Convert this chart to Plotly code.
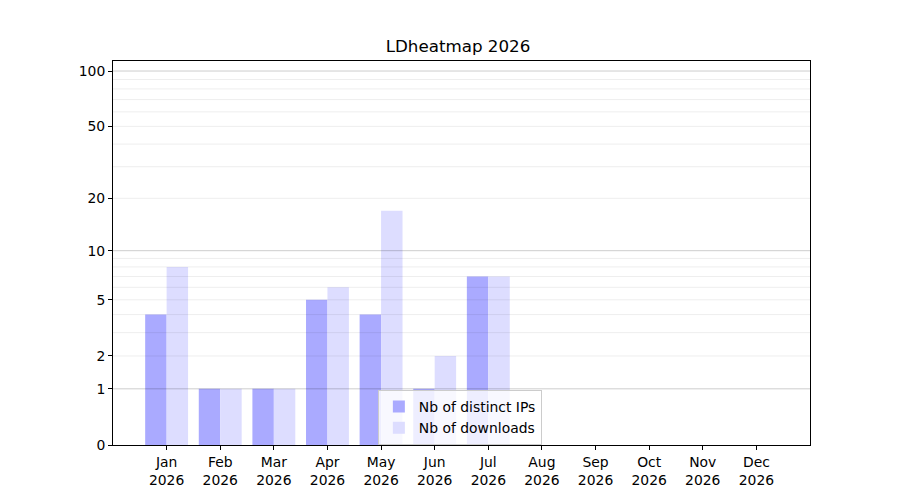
import numpy as np
import plotly.graph_objects as go

months = ["Jan", "Feb", "Mar", "Apr", "May", "Jun", "Jul", "Aug", "Sep", "Oct", "Nov", "Dec"]
year = "2026"
nb_ips = [4, 1, 1, 5, 4, 1, 7, 0, 0, 0, 0, 0]
nb_downloads = [8, 1, 1, 6, 17, 2, 7, 0, 0, 0, 0, 0]
tick_values = [0, 1, 2, 5, 10, 20, 50, 100]
major_grid = [1, 10, 100]
minor_grid = [2, 3, 4, 5, 6, 7, 8, 9, 20, 30, 40, 50, 60, 70, 80, 90]

def tr(v):
    return np.log10(1 + np.asarray(v, dtype=float))

x = list(range(len(months)))
fig = go.Figure()
fig.add_trace(go.Bar(x=x, y=tr(nb_ips), name="Nb of distinct IPs",
                     marker=dict(color="#aaaaff", line=dict(width=0))))
fig.add_trace(go.Bar(x=x, y=tr(nb_downloads), name="Nb of downloads",
                     marker=dict(color="#ddddff", line=dict(width=0))))

shapes = []
for v in minor_grid:
    shapes.append(dict(type="line", xref="paper", yref="y", x0=0, x1=1, y0=float(tr(v)), y1=float(tr(v)),
                       line=dict(color="rgba(0,0,0,0.07)", width=1), layer="above"))
for v in major_grid:
    shapes.append(dict(type="line", xref="paper", yref="y", x0=0, x1=1, y0=float(tr(v)), y1=float(tr(v)),
                       line=dict(color="rgba(0,0,0,0.2)", width=1), layer="above"))

fig.update_layout(
    width=900, height=500,
    paper_bgcolor="white", plot_bgcolor="white",
    margin=dict(l=105, r=98, t=53, b=63),
    font=dict(family="DejaVu Sans", size=13.9, color="black"),
    title=dict(text="LDheatmap 2026", x=0.5, xanchor="center", y=0.924, yanchor="middle",
               font=dict(size=16.7)),
    barmode="group", bargap=0.2, bargroupgap=0,
    shapes=shapes,
    showlegend=True,
    legend=dict(x=0.38, y=0.143, xanchor="left", yanchor="top",
                bgcolor="rgba(255,255,255,0.8)", bordercolor="#cccccc", borderwidth=1,
                font=dict(size=13.9), tracegroupgap=0),
    xaxis=dict(range=[-1, 12], tickmode="array", tickvals=x,
               ticktext=[f"{m}<br>{year}" for m in months],
               showgrid=False, zeroline=False, showline=True, linecolor="black", linewidth=1,
               mirror=True, ticks="outside", ticklen=4, tickcolor="black"),
    yaxis=dict(range=[0, 2.058], tickmode="array", tickvals=[float(v) for v in tr(tick_values)],
               ticktext=[str(v) for v in tick_values],
               showgrid=False, zeroline=False, showline=True, linecolor="black", linewidth=1,
               mirror=True, ticks="outside", ticklen=4, tickcolor="black"),
)
fig.write_html("out.html")
